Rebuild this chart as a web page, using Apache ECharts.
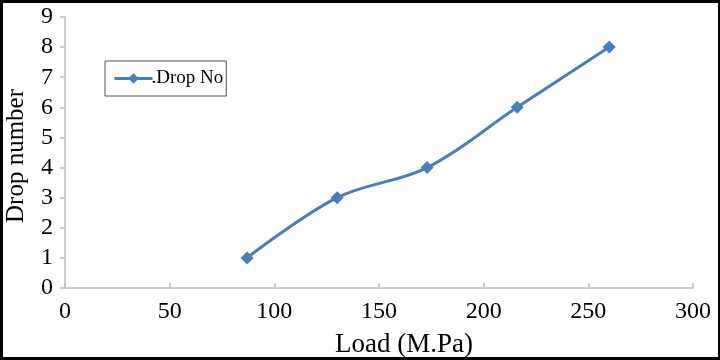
<!DOCTYPE html>
<html>
<head>
<meta charset="utf-8">
<script src="https://cdn.jsdelivr.net/npm/echarts@6/dist/echarts.min.js"></script>
<style>
    html, body { margin: 0; padding: 0; background: #fff; }
    .frame {
        box-sizing: border-box;
        width: 720px;
        height: 360px;
        border: 3px solid #000;
        border-right-width: 2px;
    }
    #chart { width: 100%; height: 100%; }
</style>
</head>
<body>
<div class="frame"><div id="chart"></div></div>
<script>
    // values
    var loads = [87, 130, 173, 216, 260];
    var drops = [1, 3, 4, 6, 8];
    var seriesName = '.Drop No';

    var points = loads.map(function (v, i) { return [v, drops[i]]; });

    var serif = '"Liberation Serif", "Times New Roman", serif';
    var blue = '#4a7ebb';

    var myChart = echarts.init(document.getElementById('chart'));
    var option = {
        animation: false,
        textStyle: { fontFamily: serif },
        grid: { left: 62, right: 25, top: 14, bottom: 69, outerBoundsMode: 'none', containLabel: false },
        legend: {
            data: [seriesName],
            left: 102,
            top: 58,
            orient: 'vertical',
            itemWidth: 38,
            itemHeight: 13,
            itemGap: 0,
            padding: [8, 3, 8, 8],
            borderColor: '#555',
            borderWidth: 1,
            lineStyle: { width: 3 },
            textStyle: { fontFamily: serif, fontSize: 19, color: '#000', padding: [0, 0, 0, -6] }
        },
        xAxis: {
            type: 'value',
            min: 0,
            max: 300,
            interval: 50,
            name: 'Load (M.Pa)',
            nameLocation: 'middle',
            nameGap: 43,
            nameTextStyle: { fontFamily: serif, fontSize: 27, color: '#000', padding: [0, 0, 0, 50] },
            axisLine: { lineStyle: { color: '#bfbfbf', width: 1.5 } },
            axisTick: { show: true, inside: true, length: 5, lineStyle: { color: '#bfbfbf', width: 1.5 } },
            axisLabel: { fontFamily: serif, fontSize: 24, color: '#000', margin: 12 },
            splitLine: { show: false }
        },
        yAxis: {
            type: 'value',
            min: 0,
            max: 9,
            interval: 1,
            name: 'Drop number',
            nameLocation: 'middle',
            nameGap: 36,
            nameTextStyle: { fontFamily: serif, fontSize: 25, color: '#000', padding: [0, 7, 0, 0] },
            axisLine: { show: true, lineStyle: { color: '#bfbfbf', width: 1.5 } },
            axisTick: { show: true, length: 5, lineStyle: { color: '#bfbfbf', width: 1.5 } },
            axisLabel: { fontFamily: serif, fontSize: 24, color: '#000', margin: 12 },
            splitLine: { show: false }
        },
        series: [{
            name: seriesName,
            type: 'line',
            data: points,
            smooth: 0.35,
            symbol: 'diamond',
            symbolSize: 13,
            lineStyle: { color: blue, width: 3 },
            itemStyle: { color: blue }
        }]
    };
    myChart.setOption(option);
</script>
</body>
</html>
